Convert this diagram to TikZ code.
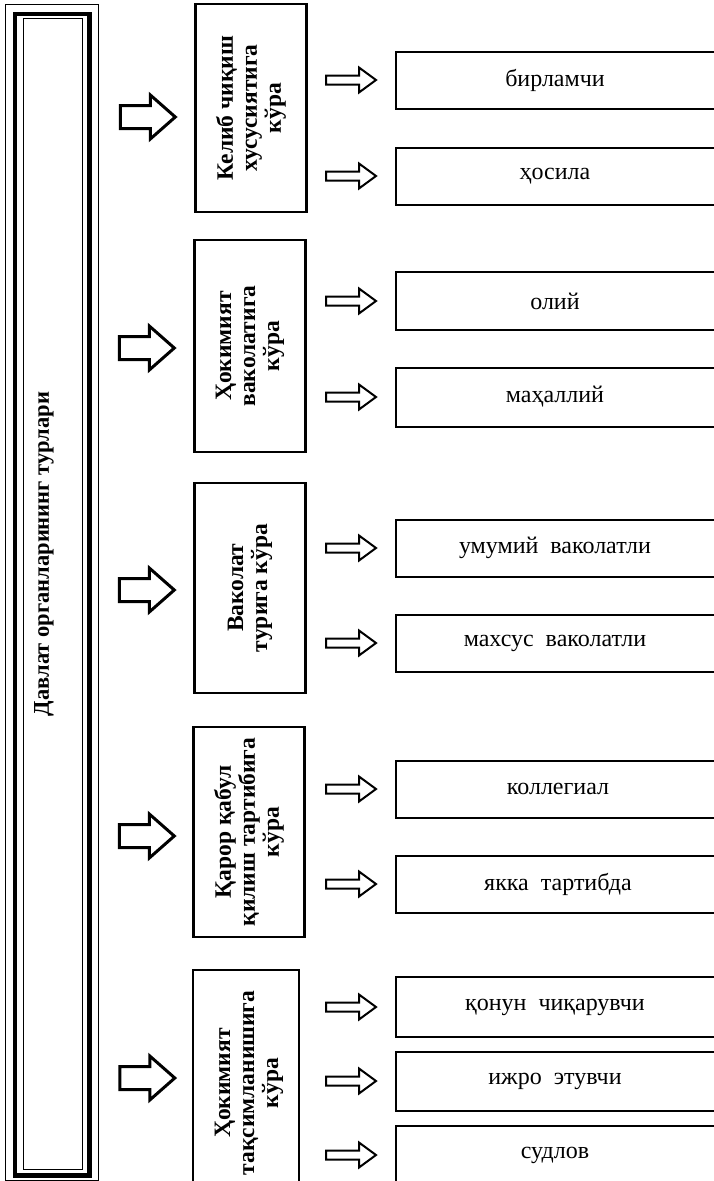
\documentclass[tikz,border=0pt]{standalone}
\usepackage{fontspec}
\setmainfont{Liberation Serif}
\begin{document}
\begin{tikzpicture}[x=1pt,y=-1pt,
  mbox/.style={draw,line width=2.4pt,minimum width=111pt,inner sep=0pt},
  mtext/.style={rotate=90,align=center,inner sep=0pt,font=\bfseries\fontsize{23.5}{24}\selectfont},
  rbox/.style={line width=1.3pt},
  rtext/.style={inner sep=0pt,font=\fontsize{24}{26}\selectfont},
  bigarrow/.pic={\draw[line width=3pt,line join=miter]
     (-55,-11.5) -- (-25,-11.5) -- (-25,-22) -- (0,0) -- (-25,22) -- (-25,11.5) -- (-55,11.5) -- cycle;},
  smallarrow/.pic={\draw[line width=2pt,line join=miter]
     (-50,-4.5) -- (-17,-4.5) -- (-17,-12.5) -- (0,0) -- (-17,12.5) -- (-17,4.5) -- (-50,4.5) -- cycle;}
]
\useasboundingbox (0,0) rectangle (714,1181);
\clip (0,0) rectangle (714,1181);
\fill[white] (0,0) rectangle (714,1181);
% left panel
\draw[line width=1pt] (5.5,4) rectangle (98,1180);
\draw[line width=4.5pt] (15,14) rectangle (89.5,1175.5);
\node[draw,line width=1pt,minimum width=59.5pt,minimum height=1150.5pt,inner sep=0pt] (panel) at (52.75,593.75) {};
\node[rotate=90,inner sep=0pt,font=\bfseries\fontsize{22.5}{24}\selectfont] (ptext) at (44,554) {Давлат органларининг турлари};

% middle boxes
\node[mbox,minimum height=208pt] (m1) at (251,108) {};
\node[mbox,minimum height=212pt] (m2) at (250,346) {};
\node[mbox,minimum height=210pt] (m3) at (250,588) {};
\node[mbox,minimum height=210pt] (m4) at (249,832) {};
\node[mbox,minimum height=226pt,minimum width=106pt] (m5) at (246,1083) {};
\node[mtext] (m1t) at (m1) {Келиб чиқиш\\хусусиятига\\кўра};
\node[mtext] (m2t) at (m2) {Ҳокимият\\ваколатига\\кўра};
\node[mtext] (m3t) at (m3) {Ваколат\\турига кўра};
\node[mtext] (m4t) at (m4) {Қарор қабул\\қилиш тартибига\\кўра};
\node[mtext] (m5t) at ([xshift=3pt]m5) {Ҳокимият\\тақсимланишига\\кўра};

% big arrows
\pic at ([xshift=-19pt,yshift=-9pt]m1.west) {bigarrow};
\pic at ([xshift=-19pt,yshift=-2pt]m2.west) {bigarrow};
\pic at ([xshift=-19pt,yshift=-2pt]m3.west) {bigarrow};
\pic at ([xshift=-18pt,yshift=-4pt]m4.west) {bigarrow};
\pic at ([xshift=-17pt,yshift=5pt]m5.west) {bigarrow};

% right boxes (open on the right: they run off the page)
\foreach \n/\t/\b in {r1/52/109, r2/148/205, r3/272/330, r4/368/427, r5/520/577,
                      r6/615/672, r7/761/818, r8/856/913, r9/977/1037, r10/1052/1111, r11/1126/1200}{
  \coordinate (\n nw) at (396,\t);
  \coordinate (\n sw) at (396,\b);
  \coordinate (\n ne) at (714,\t);
  \coordinate (\n se) at (714,\b);
  \draw[rbox] (\n ne) -- (\n nw) -- (\n sw) -- (\n se);
}
\node[rtext] (t1) at (555,80) {бирламчи};
\node[rtext] (t2) at (555,176) {ҳосила};
\node[rtext] (t3) at (555,301) {олий};
\node[rtext] (t4) at (555,397) {маҳаллий};
\node[rtext] (t5) at (555,548) {умумий\ \ ваколатли};
\node[rtext] (t6) at (555,643) {махсус\ \ ваколатли};
\node[rtext] (t7) at (558,789) {коллегиал};
\node[rtext] (t8) at (558,884) {якка\ \ тартибда};
\node[rtext] (t9) at (555,1007) {қонун\ \ чиқарувчи};
\node[rtext] (t10) at (555,1081) {ижро\ \ этувчи};
\node[rtext] (t11) at (555,1155) {судлов};

% small arrows
\pic at ([xshift=-20pt]r1nw |- t1) {smallarrow};
\pic at ([xshift=-20pt]r2nw |- t2) {smallarrow};
\pic at ([xshift=-20pt]r3nw |- t3) {smallarrow};
\pic at ([xshift=-20pt]r4nw |- t4) {smallarrow};
\pic at ([xshift=-20pt]r5nw |- t5) {smallarrow};
\pic at ([xshift=-20pt]r6nw |- t6) {smallarrow};
\pic at ([xshift=-20pt]r7nw |- t7) {smallarrow};
\pic at ([xshift=-20pt]r8nw |- t8) {smallarrow};
\pic at ([xshift=-20pt]r9nw |- t9) {smallarrow};
\pic at ([xshift=-20pt]r10nw |- t10) {smallarrow};
\pic at ([xshift=-20pt]r11nw |- t11) {smallarrow};
\end{tikzpicture}
\end{document}
